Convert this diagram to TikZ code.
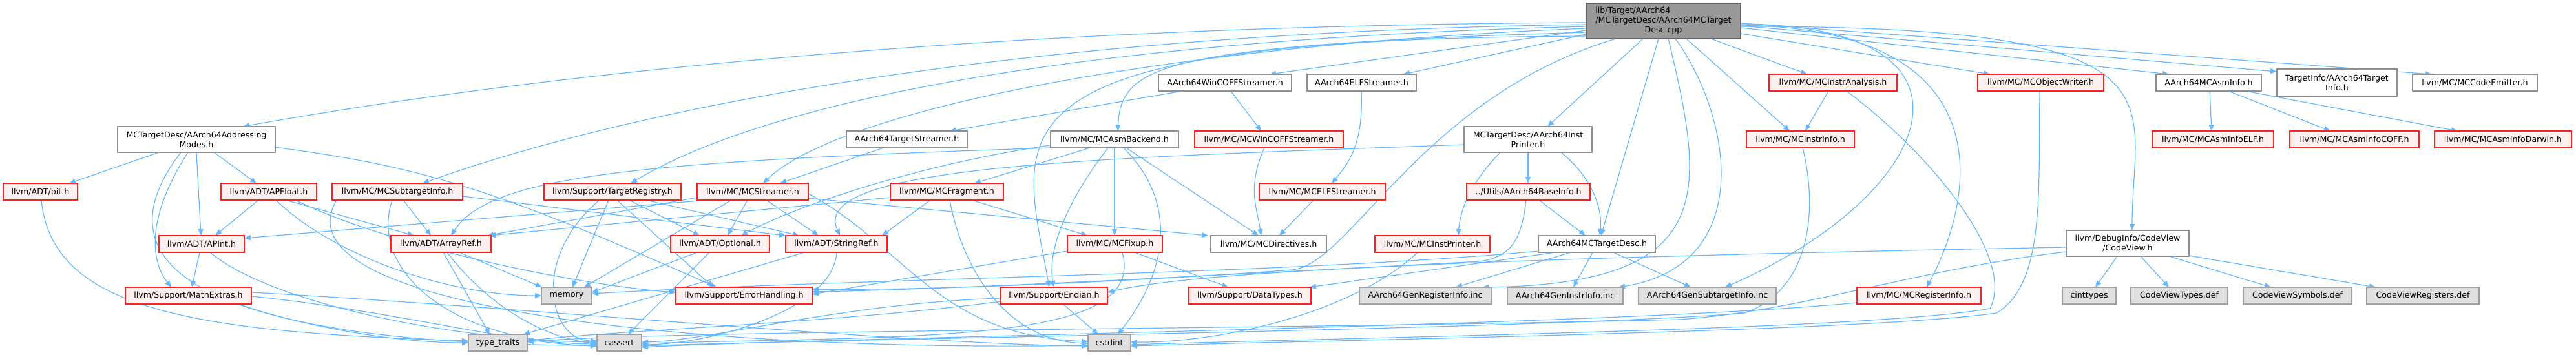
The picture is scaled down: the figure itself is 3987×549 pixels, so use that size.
\documentclass[tikz,border=0pt]{standalone}
\usepackage{fontspec}
\setmainfont{DejaVu Sans}
\usetikzlibrary{arrows.meta}
\definecolor{edgeblue}{HTML}{63B8FF}
\definecolor{boxgray}{HTML}{8F8F8F}
\definecolor{boxred}{HTML}{FF2020}
\definecolor{redfill}{HTML}{FFF0F0}
\definecolor{extgray}{HTML}{A0A0A0}
\definecolor{extfill}{HTML}{E0E0E0}
\definecolor{rootfill}{HTML}{999999}
\definecolor{rootline}{HTML}{666666}
\newcommand\nfont{\fontsize{12.6}{15}\selectfont}
\newcommand\mknode[7]{\node[#1,minimum width=#5pt,minimum height=#6pt] (#2) at (#3,-#4) {#7};}
\pgfdeclarelayer{edges}
\pgfsetlayers{edges,main}
\tikzset{
 nb/.style={line width=1.3pt, inner sep=0pt, outer sep=0pt, anchor=north west, align=center, font=\nfont},
 wbox/.style={nb, draw=boxgray, fill=white},
 rbox/.style={nb, draw=boxred, fill=redfill},
 gbox/.style={nb, draw=extgray, fill=extfill},
 rootbox/.style={nb, draw=rootline, fill=rootfill},
 edg/.style={draw=edgeblue, line width=1.2pt, -{Triangle[length=10pt,width=8pt]}},
}
\begin{document}
\begin{tikzpicture}[x=1pt,y=1pt]
\useasboundingbox (0,0) rectangle (3987,-549);
% root
\node[rootbox,minimum width=239pt,minimum height=55pt] (root) at (2455,-5) {\begin{tabular}{@{}l@{}}lib/Target/AArch64\\/MCTargetDesc/AArch64MCTarget\\\multicolumn{1}{@{}c@{}}{Desc.cpp}\end{tabular}};
% rank 1
\mknode{wbox}{wincoff}{1793}{115}{206}{26}{AArch64WinCOFFStreamer.h}
\mknode{wbox}{elfs}{2023}{115}{169}{26}{AArch64ELFStreamer.h}
\mknode{rbox}{instran}{2738}{115}{198}{26}{llvm/MC/MCInstrAnalysis.h}
\mknode{rbox}{objw}{3061}{115}{195}{26}{llvm/MC/MCObjectWriter.h}
\mknode{wbox}{asminfo}{3337}{115}{163}{26}{AArch64MCAsmInfo.h}
\mknode{wbox}{tinfo}{3524}{107}{186}{42}{TargetInfo/AArch64Target\\Info.h}
\mknode{wbox}{cemit}{3734}{115}{193}{26}{llvm/MC/MCCodeEmitter.h}
% rank 2
\mknode{wbox}{addr}{182}{196}{244}{40}{MCTargetDesc/AArch64Addressing\\Modes.h}
\mknode{wbox}{tstream}{1310}{203}{187}{26}{AArch64TargetStreamer.h}
\mknode{wbox}{asmb}{1626}{203}{198}{26}{llvm/MC/MCAsmBackend.h}
\mknode{rbox}{mcwin}{1849}{203}{230}{26}{llvm/MC/MCWinCOFFStreamer.h}
\mknode{wbox}{iprint}{2266}{196}{198}{40}{MCTargetDesc/AArch64Inst\\Printer.h}
\mknode{rbox}{instrinfo}{2703}{203}{167}{26}{llvm/MC/MCInstrInfo.h}
\mknode{rbox}{aelf}{3331}{203}{188}{26}{llvm/MC/MCAsmInfoELF.h}
\mknode{rbox}{acoff}{3544}{203}{200}{26}{llvm/MC/MCAsmInfoCOFF.h}
\mknode{rbox}{adarwin}{3768}{203}{212}{26}{llvm/MC/MCAsmInfoDarwin.h}
% rank 3
\mknode{rbox}{bit}{5}{284}{115}{26}{llvm/ADT/bit.h}
\mknode{rbox}{apfloat}{342}{284}{148}{26}{llvm/ADT/APFloat.h}
\mknode{rbox}{subt}{514}{284}{202}{26}{llvm/MC/MCSubtargetInfo.h}
\mknode{rbox}{treg}{842}{284}{212}{26}{llvm/Support/TargetRegistry.h}
\mknode{rbox}{streamer}{1079}{284}{172}{26}{llvm/MC/MCStreamer.h}
\mknode{rbox}{frag}{1378}{284}{175}{26}{llvm/MC/MCFragment.h}
\mknode{rbox}{mcelf}{1949}{284}{195}{26}{llvm/MC/MCELFStreamer.h}
\mknode{rbox}{binfo}{2270}{284}{191}{26}{../Utils/AArch64BaseInfo.h}
% rank 4
\mknode{rbox}{apint}{246}{365}{132}{26}{llvm/ADT/APInt.h}
\mknode{rbox}{aref}{605}{365}{155}{26}{llvm/ADT/ArrayRef.h}
\mknode{rbox}{opt}{1038}{365}{153}{26}{llvm/ADT/Optional.h}
\mknode{rbox}{sref}{1216}{365}{157}{26}{llvm/ADT/StringRef.h}
\mknode{rbox}{fixup}{1652}{365}{147}{26}{llvm/MC/MCFixup.h}
\mknode{wbox}{dirs}{1874}{365}{179}{26}{llvm/MC/MCDirectives.h}
\mknode{rbox}{mcip}{2128}{365}{178}{26}{llvm/MC/MCInstPrinter.h}
\mknode{wbox}{mctd}{2381}{365}{181}{26}{AArch64MCTargetDesc.h}
\mknode{wbox}{cview}{3198}{357}{190}{40}{llvm/DebugInfo/CodeView\\/CodeView.h}
% rank 5
\mknode{rbox}{mathx}{194}{445}{195}{26}{llvm/Support/MathExtras.h}
\mknode{gbox}{memory}{838}{445}{78}{26}{memory}
\mknode{rbox}{errh}{1046}{445}{211}{26}{llvm/Support/ErrorHandling.h}
\mknode{rbox}{endian}{1549}{445}{165}{26}{llvm/Support/Endian.h}
\mknode{rbox}{dtypes}{1840}{445}{189}{26}{llvm/Support/DataTypes.h}
\mknode{gbox}{genreg}{2104}{445}{204}{26}{AArch64GenRegisterInfo.inc}
\mknode{gbox}{geninstr}{2333}{445}{179}{26}{AArch64GenInstrInfo.inc}
\mknode{gbox}{gensub}{2536}{445}{213}{26}{AArch64GenSubtargetInfo.inc}
\mknode{rbox}{mcreg}{2874}{445}{192}{26}{llvm/MC/MCRegisterInfo.h}
\mknode{gbox}{cinttypes}{3192}{445}{83}{26}{cinttypes}
\mknode{gbox}{cvtypes}{3298}{445}{150}{26}{CodeViewTypes.def}
\mknode{gbox}{cvsym}{3472}{445}{168}{26}{CodeViewSymbols.def}
\mknode{gbox}{cvreg}{3663}{445}{174}{26}{CodeViewRegisters.def}
% rank 6
\mknode{gbox}{ttraits}{725}{518}{91}{26}{type\_traits}
\mknode{gbox}{cassert}{924}{518}{69}{26}{cassert}
\mknode{gbox}{cstdint}{1684}{518}{66}{26}{cstdint}

\begin{pgfonlayer}{edges}
% root, left side
\draw[edg] ([yshift=-30pt]root.north west) .. controls (1500,-40) and (800,-120) .. ([xshift=194pt]addr.north west);
\draw[edg] ([yshift=-33pt]root.north west) .. controls (1600,-50) and (1000,-160) .. ([xshift=140pt]subt.north west);
\draw[edg] ([yshift=-36pt]root.north west) .. controls (1700,-60) and (1200,-150) .. ([xshift=134pt]treg.north west);
\draw[edg] ([yshift=-39pt]root.north west) .. controls (1800,-70) and (1300,-170) .. ([xshift=102pt]streamer.north west);
\draw[edg] ([yshift=-42pt]root.north west) -- ([xshift=172pt]wincoff.north west);
\draw[edg] ([yshift=-48pt]root.north west) -- ([xshift=149pt]elfs.north west);
\draw[edg] ([yshift=-45pt]root.north west) .. controls (1800,-70) and (1735,-100) .. ([xshift=104pt]asmb.north west);
\draw[edg] ([yshift=-51pt]root.north west) .. controls (1500,-60) and (1580,-200) .. ([xshift=75pt]endian.north west);
% root, bottom
\draw[edg] ([xshift=46pt]root.south west) .. controls (2200,-150) and (2090,-410) .. (2000,-418) .. controls (1700,-440) and (1400,-450) .. ([yshift=10pt]errh.east);
\draw[edg] ([xshift=88pt]root.south west) -- ([xshift=129pt]iprint.north west);
\draw[edg] ([xshift=112pt]root.south west) -- ([xshift=97pt]mctd.north west);
\draw[edg] ([xshift=127pt]root.south west) .. controls (2640,-300) and (2660,-440) .. ([xshift=190pt]genreg.north west);
\draw[edg] ([xshift=138pt]root.south west) .. controls (2680,-180) and (2720,-410) .. ([xshift=172pt]geninstr.north west);
\draw[edg] ([xshift=155pt]root.south west) -- ([xshift=67pt]instrinfo.north west);
\draw[edg] ([xshift=193pt]root.south west) -- ([xshift=59pt]instran.north west);
% root, right side
\draw[edg] ([yshift=-32pt]root.north east) .. controls (3100,-40) and (3000,-300) .. ([xshift=134pt]gensub.north west);
\draw[edg] ([yshift=-34pt]root.north east) .. controls (3100,-45) and (3060,-300) .. ([xshift=108pt]mcreg.north west);
\draw[edg] ([yshift=-47pt]root.north east) -- ([xshift=19pt]objw.north west);
\draw[edg] ([yshift=-36pt]root.north east) .. controls (3400,-40) and (3300,-150) .. ([xshift=102pt]cview.north west);
\draw[edg] ([yshift=-38pt]root.north east) -- ([xshift=20pt]asminfo.north west);
\draw[edg] ([yshift=-35pt]root.north east) -- ([yshift=-4pt]tinfo.north west);
\draw[edg] ([yshift=-31pt]root.north east) -- ([xshift=30pt]cemit.north west);
% streamers
\draw[edg] ([xshift=37pt]wincoff.south west) -- ([xshift=160pt]tstream.north west);
\draw[edg] ([xshift=112pt]wincoff.south west) -- ([xshift=103pt]mcwin.north west);
\draw[edg] ([xshift=84pt]elfs.south west) .. controls (2110,-220) and (2090,-250) .. ([xshift=112pt]mcelf.north west);
\draw[edg] ([xshift=57pt]tstream.south west) -- ([xshift=128pt]streamer.north west);
% MCAsmBackend
\draw[edg] (asmb.south west) .. controls (1000,-250) and (760,-270) .. ([xshift=93pt]aref.north west);
\draw[edg] ([yshift=4pt]asmb.south west) .. controls (1450,-250) and (1250,-310) .. ([xshift=109pt]opt.north west);
\draw[edg] ([xshift=61pt]asmb.south west) -- ([xshift=130pt]frag.north west);
\draw[edg] ([xshift=89pt]asmb.south west) .. controls (1660,-300) and (1620,-380) .. ([xshift=82pt]endian.north west);
\draw[edg] ([xshift=99pt]asmb.south west) -- ([xshift=73pt]fixup.north west);
\draw[edg] ([xshift=113pt]asmb.south west) .. controls (1830,-320) and (1800,-430) .. ([xshift=46pt]cstdint.north west);
\draw[edg] ([xshift=117pt]asmb.south west) -- ([xshift=74pt]dirs.north west);
\draw[edg] ([xshift=108pt]mcwin.south west) .. controls (1930,-290) and (1945,-320) .. ([xshift=78pt]dirs.north west);
% InstPrinter, BaseInfo, ELF
\draw[edg] ([yshift=12pt]iprint.south west) .. controls (1700,-245) and (1250,-255) .. ([xshift=84pt]sref.north west);
\draw[edg] ([xshift=56pt]iprint.south west) .. controls (2270,-290) and (2260,-330) .. ([xshift=129pt]mcip.north west);
\draw[edg] ([xshift=99pt]iprint.south west) -- ([xshift=95pt]binfo.north west);
\draw[edg] ([xshift=150pt]iprint.south west) .. controls (2470,-280) and (2480,-330) .. ([xshift=95pt]mctd.north west);
\draw[edg] ([xshift=112pt]binfo.south west) -- ([xshift=73pt]mctd.north west);
\draw[edg] ([xshift=92pt]binfo.south west) .. controls (2355,-370) and (2340,-398) .. (2290,-405) .. controls (2000,-420) and (1500,-448) .. ([yshift=6pt]errh.east);
\draw[edg] ([xshift=84pt]mcelf.south west) -- ([xshift=106pt]dirs.north west);
% MCStreamer
\draw[edg] ([xshift=16pt]streamer.south west) -- ([yshift=9pt]apint.east);
\draw[edg] ([yshift=4pt]streamer.south west) -- ([xshift=-6pt]aref.north east);
\draw[edg] ([xshift=53pt]streamer.south west) -- ([xshift=66pt]memory.north west);
\draw[edg] ([xshift=78pt]streamer.south west) -- ([xshift=88pt]opt.north west);
\draw[edg] ([xshift=107pt]streamer.south west) -- ([xshift=51pt]sref.north west);
\draw[edg] ([yshift=3pt]streamer.south east) -- ([xshift=-4pt]dirs.north west);
\draw[edg] ([yshift=-3pt]streamer.east) .. controls (1400,-380) and (1450,-520) .. ([yshift=2pt]cstdint.west);
% MCFragment
\draw[edg] ([yshift=4pt]frag.south west) -- ([xshift=-3pt]aref.north east);
\draw[edg] ([xshift=62pt]frag.south west) -- ([xshift=-8pt]sref.north east);
\draw[edg] ([xshift=92pt]frag.south west) .. controls (1490,-420) and (1560,-528) .. ([yshift=-1pt]cstdint.west);
\draw[edg] ([xshift=126pt]frag.south west) -- ([xshift=31pt]fixup.north west);
% MCSubtargetInfo
\draw[edg] ([xshift=110pt]subt.south west) -- ([xshift=62pt]aref.north west);
\draw[edg] ([yshift=6pt]subt.south east) -- (sref.north west);
\draw[edg] ([xshift=93pt]subt.south west) .. controls (570,-420) and (700,-531) .. ([yshift=-2pt]cassert.west);
\draw[edg] ([xshift=7pt]subt.south west) .. controls (420,-480) and (1100,-545) .. ([yshift=-4pt]cstdint.west);
% TargetRegistry
\draw[edg] ([xshift=86pt]treg.south west) .. controls (820,-400) and (850,-528) .. ([yshift=3pt]cassert.west);
\draw[edg] ([xshift=100pt]treg.south west) -- ([xshift=48pt]memory.north west);
\draw[edg] ([xshift=113pt]treg.south west) -- ([xshift=58pt]errh.north west);
\draw[edg] ([xshift=132pt]treg.south west) -- ([xshift=45pt]opt.north west);
\draw[edg] ([xshift=158pt]treg.south west) -- ([xshift=21pt]sref.north west);
% APFloat
\draw[edg] ([xshift=58pt]apfloat.south west) -- ([xshift=87pt]apint.north west);
\draw[edg] ([xshift=100pt]apfloat.south west) -- ([xshift=36pt]aref.north west);
\draw[edg] ([xshift=115pt]apfloat.south west) .. controls (600,-380) and (880,-440) .. ([yshift=5pt]errh.west);
\draw[edg] ([xshift=85pt]apfloat.south west) .. controls (520,-400) and (700,-458) .. (memory.west);
% AddressingModes
\draw[edg] ([xshift=64pt]addr.south west) -- ([xshift=102pt]bit.north west);
\draw[edg] ([xshift=149pt]addr.south west) -- ([xshift=55pt]apfloat.north west);
\draw[edg] ([xshift=122pt]addr.south west) -- ([xshift=65pt]apint.north west);
\draw[edg] ([xshift=109pt]addr.south west) .. controls (230,-330) and (230,-400) .. ([xshift=71pt]mathx.north west);
\draw[edg] ([xshift=98pt]addr.south west) .. controls (100,-470) and (500,-535) .. ([yshift=-4pt]cassert.west);
\draw[edg] ([yshift=8pt]addr.south east) .. controls (650,-258) and (760,-290) .. ([xshift=63pt]errh.north west);
% bit.h, APInt
\draw[edg] ([xshift=59pt]bit.south west) .. controls (80,-480) and (300,-515) .. ([yshift=3pt]ttraits.west);
\draw[edg] ([xshift=63pt]apint.south west) -- ([xshift=103pt]mathx.north west);
\draw[edg] ([xshift=79pt]apint.south west) .. controls (420,-470) and (700,-527) .. ([yshift=1pt]cassert.west);
% ArrayRef, Optional, StringRef
\draw[edg] ([xshift=81pt]aref.south west) -- ([xshift=33pt]ttraits.north west);
\draw[edg] ([xshift=87pt]aref.south west) .. controls (760,-480) and (850,-525) .. ([yshift=-1pt]cassert.west);
\draw[edg] ([xshift=106pt]aref.south west) -- ([xshift=1pt]memory.north west);
\draw[edg] ([xshift=41pt]opt.south west) -- ([yshift=5pt]memory.east);
\draw[edg] ([xshift=60pt]opt.south west) -- ([xshift=48pt]cassert.north west);
\draw[edg] ([xshift=29pt]sref.south west) -- ([xshift=85pt]ttraits.north west);
\draw[edg] ([xshift=79pt]sref.south west) .. controls (1290,-480) and (1100,-533) .. ([yshift=-3pt]cassert.east);
% MathExtras
\draw[edg] ([yshift=5pt]mathx.east) .. controls (800,-475) and (1400,-533) .. ([yshift=-5pt]cstdint.west);
\draw[edg] ([yshift=-1pt]mathx.east) .. controls (600,-480) and (800,-533) .. ([yshift=-5pt]cassert.west);
\draw[edg] ([xshift=-20pt]mathx.south east) .. controls (450,-500) and (600,-531) .. (ttraits.west);
% MCFixup
\draw[edg] ([yshift=2pt]fixup.south west) -- ([yshift=2pt]errh.east);
\draw[edg] ([xshift=104pt]fixup.south west) -- ([xshift=61pt]dtypes.north west);
\draw[edg] ([xshift=85pt]fixup.south west) .. controls (1775,-530) and (1450,-520) .. ([yshift=-1pt]cassert.east);
% Endian
\draw[edg] ([xshift=96pt]endian.south west) -- ([xshift=16pt]cstdint.north west);
\draw[edg] ([yshift=4pt]endian.south west) .. controls (1300,-500) and (950,-512) .. ([yshift=3pt]ttraits.east);
\draw[edg] ([yshift=9pt]endian.south west) .. controls (1300,-470) and (1100,-528) .. ([yshift=1pt]cassert.east);
% MCInstPrinter, AArch64MCTargetDesc
\draw[edg] ([xshift=66pt]mcip.south west) .. controls (2100,-480) and (1900,-531) .. ([yshift=1pt]cstdint.east);
\draw[edg] ([xshift=26pt]mctd.south west) -- ([xshift=-2pt]dtypes.north east);
\draw[edg] ([yshift=2pt]mctd.south west) .. controls (2000,-425) and (1300,-432) .. ([yshift=3pt]memory.east);
\draw[edg] ([xshift=50pt]mctd.south west) -- ([xshift=149pt]genreg.north west);
\draw[edg] ([xshift=84pt]mctd.south west) -- ([xshift=102pt]geninstr.north west);
\draw[edg] ([xshift=116pt]mctd.south west) -- ([xshift=81pt]gensub.north west);
% MCInstrAnalysis, MCInstrInfo, MCObjectWriter, MCRegisterInfo
\draw[edg] ([xshift=92pt]instran.south west) -- ([xshift=91pt]instrinfo.north west);
\draw[edg] ([xshift=120pt]instran.south west) .. controls (2990,-240) and (3120,-400) .. (3080,-478) .. controls (2900,-510) and (2200,-520) .. ([yshift=-3pt]cstdint.east);
\draw[edg] ([xshift=87pt]instrinfo.south west) .. controls (2815,-330) and (2800,-450) .. (2700,-485) .. controls (2400,-510) and (1300,-525) .. ([yshift=-5pt]cassert.east);
\draw[edg] ([xshift=96pt]objw.south west) .. controls (3155,-300) and (3165,-440) .. (3090,-485) .. controls (2900,-512) and (2200,-524) .. ([yshift=-5pt]cstdint.east);
\draw[edg] ([yshift=2pt]mcreg.south west) .. controls (2500,-505) and (1300,-522) .. ([yshift=-7pt]cassert.east);
% CodeView
\draw[edg] ([xshift=79pt]cview.south west) -- ([xshift=51pt]cinttypes.north west);
\draw[edg] ([xshift=115pt]cview.south west) -- ([xshift=59pt]cvtypes.north west);
\draw[edg] ([xshift=159pt]cview.south west) -- ([xshift=43pt]cvsym.north west);
\draw[edg] ([yshift=1pt]cview.south east) -- ([xshift=14pt]cvreg.north west);
\draw[edg] ([yshift=-6pt]cview.west) .. controls (2300,-400) and (1850,-420) .. ([yshift=5pt]endian.east);
\draw[edg] ([yshift=-13pt]cview.west) .. controls (2950,-420) and (2800,-480) .. (2600,-495) .. controls (2000,-510) and (1000,-512) .. ([yshift=1pt]ttraits.east);
% AArch64MCAsmInfo
\draw[edg] ([xshift=83pt]asminfo.south west) -- ([xshift=92pt]aelf.north west);
\draw[edg] ([xshift=112pt]asminfo.south west) -- ([xshift=63pt]acoff.north west);
\draw[edg] ([xshift=138pt]asminfo.south west) -- ([xshift=36pt]adarwin.north west);
\end{pgfonlayer}
\end{tikzpicture}
\end{document}
